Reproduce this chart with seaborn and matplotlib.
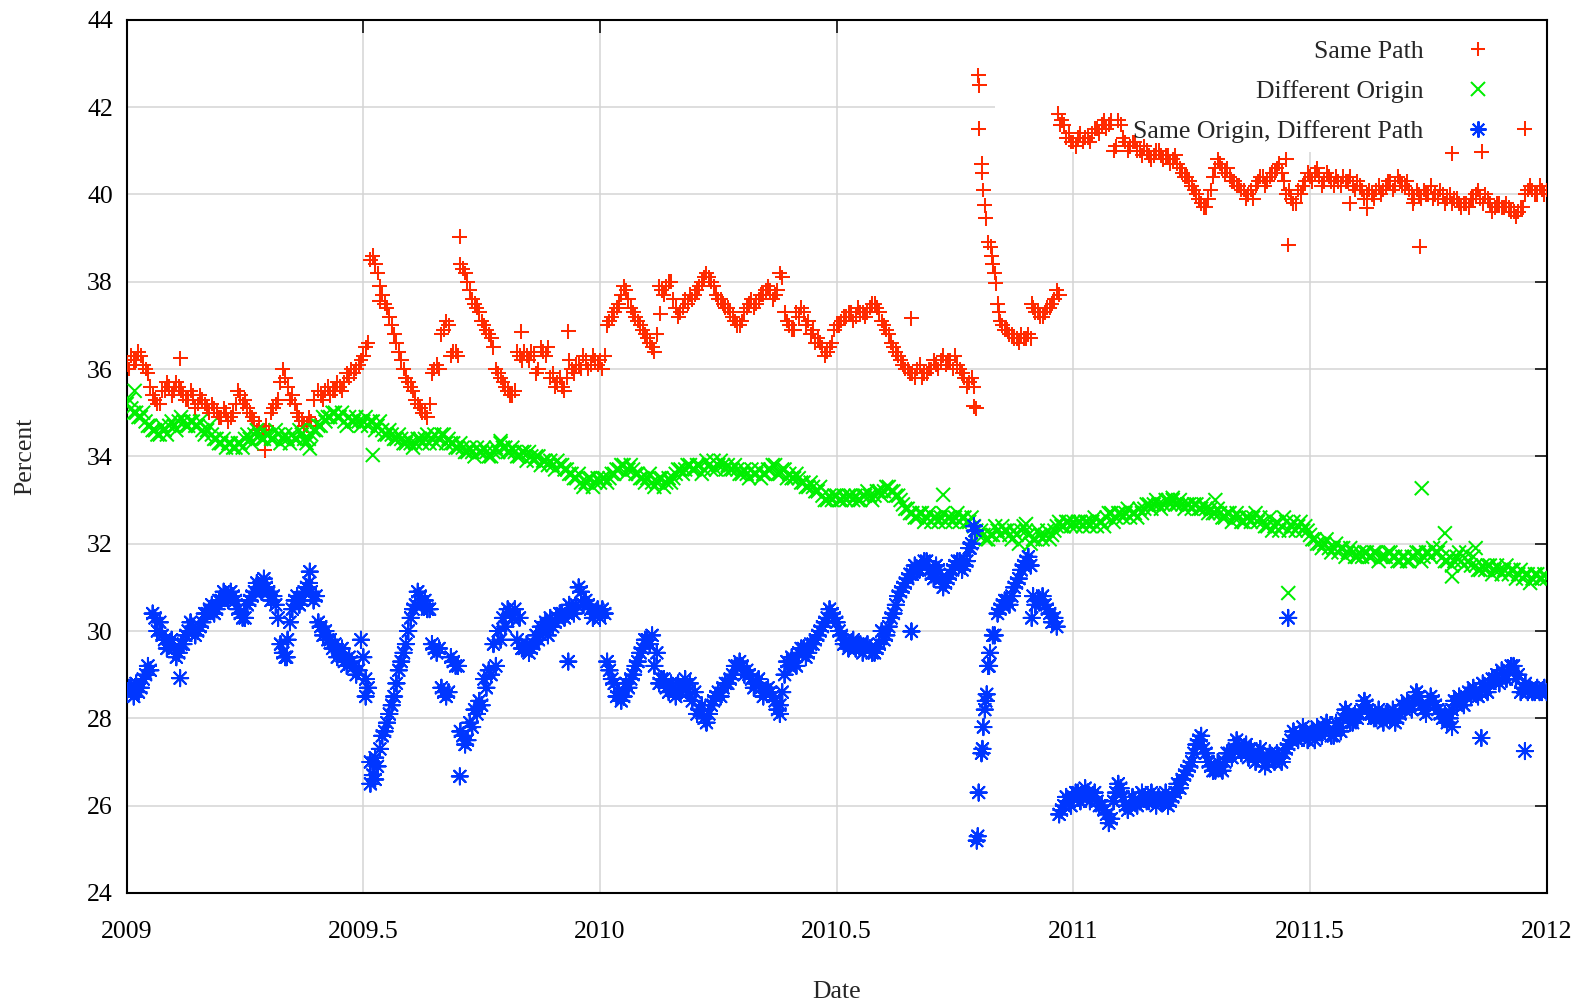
import numpy as np
import pandas as pd
import matplotlib
matplotlib.use("Agg")
import matplotlib.pyplot as plt
import seaborn as sns
from matplotlib.lines import Line2D
from matplotlib.patches import Rectangle
from matplotlib.ticker import FuncFormatter

nan = np.nan

# ---------------- data ----------------
# sampling dates: 2009.00 .. 2012.00 every 0.01 year, plus the half-steps between them
grid_t = np.round(np.arange(2009.0, 2012.0001, 0.01), 2)
half_t = np.round(np.arange(2009.005, 2011.9951, 0.01), 3)

same_path = [
    36.1, 36.3, 36.2, 36.3, 36.0, 35.6, 35.3, 35.2, 35.5, 35.6,
    35.5, 35.6, 35.4, 35.3, 35.4, 35.2, 35.3, 35.1, 35.2, 35.0,
    34.9, 35.0, 34.9, 35.2, 35.4, 35.3, 35.0, 34.8, 34.7, 34.6,
    34.6, 35.1, 35.3, 36.0, 35.6, 35.4, 35.0, 34.8, 34.7, 34.8,
    34.7, 35.4, 35.5, 35.4, 35.5, 35.6, 35.7, 35.8, 35.9, 36.1,
    36.3, 36.6, 38.6, 38.2, 37.7, 37.4, 37.0, 36.6, 36.2, 35.8,
    35.6, 35.3, 35.1, 35.0, 35.2, 36.0, 36.0, 36.9, 37.0, 36.4,
    36.3, 38.3, 38.0, 37.6, 37.4, 37.1, 36.9, 36.7, 36.0, 35.8,
    35.6, 35.4, 35.5, 36.3, 36.4, 36.2, 36.3, 36.0, 36.4, 36.5,
    35.9, 35.7, 35.6, 35.8, 36.0, 36.1, 36.0, 36.2, 36.1, 36.2,
    36.2, 36.3, 37.1, 37.3, 37.5, 37.9, 37.6, 37.3, 37.1, 36.9,
    36.7, 36.5, 36.8, 37.8, 37.9, 38.0, 37.4, 37.3, 37.6, 37.7,
    37.7, 37.9, 38.1, 38.1, 37.9, 37.6, 37.5, 37.4, 37.2, 37.0,
    37.1, 37.4, 37.6, 37.5, 37.7, 37.8, 37.8, 37.7, 38.2, 37.3,
    37.0, 36.9, 37.2, 37.3, 37.1, 36.9, 36.7, 36.5, 36.4, 36.6,
    37.0, 37.1, 37.2, 37.3, 37.2, 37.3, 37.2, 37.4, 37.5, 37.3,
    37.0, 36.8, 36.5, 36.3, 36.1, 36.0, 35.9, 36.0, 35.8, 35.9,
    36.0, 36.1, 36.2, 36.1, 36.2, 36.3, 36.0, 35.8, 35.7, 35.6,
    41.5, 40.1, 38.9, 38.4, 37.5, 37.0, 36.9, 36.8, 36.7, 36.8,
    36.7, 36.7, 37.3, 37.2, 37.3, 37.4, 37.6, 37.7, 41.6, 41.4,
    41.2, 41.3, 41.2, 41.3, 41.4, 41.5, 41.6, 41.5, 41.7, 41.1,
    41.6, 41.2, 41.1, 41.2, 41.0, 41.1, 40.9, 40.9, 41.0, 40.8,
    40.9, 40.8, 40.7, 40.5, 40.4, 40.2, 40.0, 39.8, 39.7, 40.1,
    40.6, 40.7, 40.5, 40.4, 40.3, 40.2, 40.1, 40.0, 39.9, 40.3,
    40.4, 40.3, 40.5, 40.6, 40.5, 40.0, 39.9, 39.8, 40.0, 40.3,
    40.4, 40.5, 40.4, 40.3, 40.4, 40.2, 40.3, 40.4, 40.3, 40.2,
    40.3, 40.1, 40.0, 40.0, 40.1, 40.0, 40.2, 40.3, 40.2, 40.3,
    40.2, 40.1, 39.9, 40.0, 40.1, 40.0, 39.9, 39.9, 40.0, 39.9,
    39.8, 39.9, 39.7, 39.8, 39.9, 40.0, 39.9, 40.0, 39.8, 39.7,
    39.8, 39.7, 39.7, 39.6, 39.6, 39.7, 40.1, 40.1, 40.0, 40.1,
    40.1,
]
same_path_half = [
    36.0, 36.2, 36.4, 36.1, 35.9, 35.4, 35.2, 35.5, 35.7, 35.4,
    35.7, 35.5, 35.3, 35.5, 35.1, 35.4, 35.2, 35.0, 35.1, 34.9,
    35.1, 34.8, 35.0, 35.5, 35.2, 35.1, 34.9, 34.6, 34.5, 34.7,
    35.0, 35.2, 35.7, 35.8, 35.3, 35.2, 34.9, 34.7, 34.9, 35.3,
    35.5, 35.3, 35.6, 35.5, 35.7, 35.5, 35.9, 36.0, 36.0, 36.2,
    36.5, 38.5, 38.4, 37.9, 37.5, 37.2, 36.8, 36.4, 36.0, 35.7,
    35.5, 35.2, 35.0, 34.9, 35.9, 36.1, 36.8, 37.1, 36.3, 36.4,
    38.4, 38.2, 37.8, 37.5, 37.3, 37.0, 36.8, 36.5, 35.9, 35.7,
    35.5, 35.4, 36.4, 36.2, 36.3, 36.4, 35.9, 36.5, 36.3, 35.8,
    35.6, 35.8, 35.5, 36.2, 35.9, 36.1, 36.3, 36.0, 36.3, 36.1,
    36.0, 37.0, 37.2, 37.4, 37.7, 37.8, 37.4, 37.2, 37.0, 36.8,
    36.6, 36.4, 37.9, 37.7, 38.0, 37.6, 37.2, 37.4, 37.5, 37.6,
    37.8, 38.0, 38.2, 38.0, 37.7, 37.6, 37.4, 37.3, 37.1, 37.0,
    37.3, 37.5, 37.4, 37.6, 37.7, 37.9, 37.6, 37.8, 38.1, 37.1,
    36.9, 37.3, 37.4, 37.0, 36.8, 36.6, 36.6, 36.3, 36.5, 36.9,
    37.0, 37.2, 37.3, 37.1, 37.4, 37.3, 37.3, 37.5, 37.4, 37.1,
    36.9, 36.6, 36.4, 36.2, 36.0, 35.9, 35.8, 36.1, 35.9, 36.0,
    36.2, 36.0, 36.3, 36.2, 36.0, 36.1, 35.9, 35.6, 35.8, nan,
    nan, nan, nan, nan, 37.1, 36.9, 36.8, 36.7, 36.6, 36.7,
    36.8, 37.4, 37.3, 37.2, 37.4, 37.5, 37.8, 41.7, 41.3, 41.2,
    41.1, 41.4, 41.3, 41.2, 41.5, 41.4, 41.7, 41.6, 41.0, 41.7,
    41.3, 41.0, 41.2, 41.0, 40.9, 41.0, 40.8, 41.0, 40.9, 40.9,
    40.7, 40.9, 40.6, 40.4, 40.3, 40.1, 39.9, 39.7, 39.9, 40.4,
    40.8, 40.6, 40.6, 40.3, 40.2, 40.1, 39.9, 40.1, 40.2, 40.4,
    40.2, 40.4, 40.5, 40.7, 40.3, 40.1, 39.8, 40.1, 40.2, 40.5,
    40.3, 40.6, 40.2, 40.5, 40.3, 40.4, 40.2, 40.3, 40.4, 40.1,
    40.2, 39.9, 40.1, 39.9, 40.2, 40.1, 40.3, 40.1, 40.4, 40.2,
    40.3, 40.0, 40.1, 39.9, 40.0, 40.2, 40.0, 40.1, 39.8, 40.0,
    39.9, 39.8, 39.8, 39.7, 39.9, 40.1, 39.8, 39.9, 39.6, 39.8,
    39.7, 39.8, 39.6, 39.5, 39.7, 40.0, 40.2, 40.0, 40.2, 40.0,
]
same_path_extra_t = [2009.113, 2009.292, 2009.535, 2009.704, 2009.834, 2009.933,
                     2010.127, 2010.658, 2010.790, 2010.795, 2010.799, 2010.801,
                     2010.806, 2010.807, 2010.813, 2010.815, 2010.825, 2010.828,
                     2010.834, 2010.836, 2010.843, 2010.912, 2010.968, 2010.972,
                     2011.450, 2011.454, 2011.584, 2011.620, 2011.718, 2011.732,
                     2011.800, 2011.863, 2011.954]
same_path_extra_v = [36.25, 34.14, 37.55, 39.03, 36.85, 36.86,
                     37.27, 37.16, 35.15, 35.10, 42.73, 42.50,
                     40.70, 40.50, 39.75, 39.45, 38.80, 38.60,
                     38.20, 37.96, 37.30, 37.50, 41.85, 41.60,
                     40.80, 38.84, 39.80, 39.68, 39.80, 38.80,
                     40.94, 40.98, 41.50]

diff_origin = [
    35.2, 35.1, 35.0, 34.9, 34.8, 34.7, 34.6, 34.5, 34.6, 34.7,
    34.7, 34.8, 34.8, 34.7, 34.8, 34.7, 34.6, 34.6, 34.5, 34.4,
    34.3, 34.2, 34.3, 34.2, 34.3, 34.4, 34.4, 34.5, 34.5, 34.4,
    34.5, 34.4, 34.5, 34.4, 34.4, 34.5, 34.4, 34.5, 34.3, 34.5,
    34.6, 34.7, 34.8, 34.9, 35.0, 34.9, 34.8, 34.9, 34.8, 34.8,
    34.8, 34.7, 34.8, 34.7, 34.6, 34.5, 34.5, 34.4, 34.4, 34.3,
    34.3, 34.3, 34.4, 34.4, 34.3, 34.5, 34.4, 34.5, 34.4, 34.3,
    34.2, 34.2, 34.1, 34.1, 34.2, 34.1, 34.1, 34.0, 34.2, 34.3,
    34.2, 34.1, 34.1, 34.0, 34.1, 34.1, 33.9, 34.0, 33.9, 33.8,
    33.8, 33.9, 33.8, 33.7, 33.6, 33.5, 33.4, 33.4, 33.5, 33.4,
    33.4, 33.5, 33.5, 33.6, 33.7, 33.8, 33.7, 33.7, 33.6, 33.5,
    33.5, 33.4, 33.4, 33.5, 33.4, 33.4, 33.6, 33.7, 33.7, 33.8,
    33.7, 33.8, 33.7, 33.8, 33.9, 33.8, 33.8, 33.8, 33.7, 33.7,
    33.6, 33.6, 33.7, 33.6, 33.5, 33.6, 33.7, 33.8, 33.6, 33.7,
    33.6, 33.5, 33.5, 33.4, 33.3, 33.3, 33.2, 33.1, 33.0, 33.0,
    33.1, 33.0, 33.0, 33.1, 33.1, 33.0, 33.1, 33.1, 33.1, 33.2,
    33.2, 33.3, 33.2, 33.1, 32.9, 32.8, 32.7, 32.6, 32.7, 32.6,
    32.5, 32.6, 32.6, 32.5, 32.6, 32.6, 32.5, 32.6, 32.5, 32.4,
    32.2, 32.2, 32.1, 32.2, 32.3, 32.4, 32.3, 32.1, 32.2, 32.3,
    32.3, 32.0, 32.1, 32.2, 32.2, 32.1, 32.3, 32.5, 32.4, 32.5,
    32.5, 32.5, 32.4, 32.5, 32.5, 32.4, 32.5, 32.6, 32.7, 32.6,
    32.7, 32.7, 32.6, 32.7, 32.8, 32.8, 32.9, 32.9, 32.9, 32.9,
    33.0, 33.0, 32.9, 32.9, 32.9, 32.8, 32.9, 32.8, 32.8, 32.8,
    32.7, 32.7, 32.6, 32.7, 32.6, 32.6, 32.5, 32.6, 32.6, 32.5,
    32.5, 32.4, 32.3, 32.5, 32.4, 32.5, 32.4, 32.3, 32.5, 32.4,
    32.2, 32.1, 32.0, 32.0, 31.9, 31.9, 31.8, 31.9, 31.8, 31.8,
    31.7, 31.7, 31.8, 31.7, 31.8, 31.7, 31.7, 31.8, 31.7, 31.6,
    31.7, 31.6, 31.7, 31.8, 31.7, 31.8, 31.9, 31.8, 31.7, 31.6,
    31.5, 31.7, 31.6, 31.8, 31.5, 31.5, 31.4, 31.4, 31.5, 31.4,
    31.4, 31.4, 31.3, 31.4, 31.3, 31.2, 31.3, 31.2, 31.3, 31.2,
    31.2,
]
diff_origin_half = [
    35.3, 35.0, 34.9, 35.0, 34.7, 34.6, 34.5, 34.7, 34.5, 34.8,
    34.6, 34.9, 34.7, 34.8, 34.7, 34.8, 34.5, 34.7, 34.4, 34.3,
    34.4, 34.3, 34.2, 34.3, 34.2, 34.5, 34.3, 34.6, 34.4, 34.5,
    34.4, 34.6, 34.3, 34.5, 34.3, 34.4, 34.6, 34.4, 34.4, 34.6,
    34.7, 34.9, 34.9, 35.0, 34.9, 35.0, 34.7, 34.8, 34.9, 34.7,
    34.9, 34.8, 34.6, 34.8, 34.5, 34.6, 34.4, 34.5, 34.3, 34.4,
    34.2, 34.4, 34.3, 34.5, 34.4, 34.3, 34.5, 34.3, 34.3, 34.2,
    34.3, 34.1, 34.2, 34.0, 34.1, 34.2, 34.0, 34.1, 34.1, 34.2,
    34.1, 34.2, 34.0, 34.1, 33.9, 34.0, 34.0, 33.8, 33.9, 33.9,
    33.7, 33.8, 33.7, 33.6, 33.5, 33.6, 33.3, 33.5, 33.3, 33.5,
    33.5, 33.4, 33.6, 33.7, 33.8, 33.6, 33.8, 33.6, 33.5, 33.4,
    33.6, 33.3, 33.5, 33.3, 33.5, 33.5, 33.7, 33.6, 33.8, 33.7,
    33.8, 33.6, 33.9, 33.7, 33.7, 33.9, 33.7, 33.7, 33.8, 33.6,
    33.7, 33.5, 33.6, 33.7, 33.6, 33.7, 33.8, 33.6, 33.7, 33.5,
    33.5, 33.6, 33.4, 33.3, 33.4, 33.2, 33.3, 33.0, 33.1, 33.1,
    33.0, 33.1, 33.1, 33.0, 33.0, 33.1, 33.2, 33.0, 33.2, 33.1,
    33.3, 33.2, 33.1, 33.0, 32.8, 32.7, 32.6, 32.7, 32.5, 32.7,
    32.6, 32.5, 32.7, 32.6, 32.5, 32.7, 32.6, 32.5, 32.6, 32.3,
    32.3, 32.1, 32.2, 32.4, 32.2, 32.3, 32.2, 32.3, 32.0, 32.4,
    32.2, 32.1, 32.3, 32.1, 32.3, 32.2, 32.4, 32.4, 32.5, 32.4,
    32.4, 32.5, 32.5, 32.4, 32.6, 32.5, 32.4, 32.7, 32.5, 32.7,
    32.6, 32.8, 32.7, 32.6, 32.7, 32.9, 32.8, 33.0, 32.8, 33.0,
    32.9, 32.9, 33.0, 32.8, 32.9, 32.9, 32.8, 32.9, 32.7, 32.7,
    32.8, 32.6, 32.7, 32.5, 32.7, 32.5, 32.6, 32.5, 32.7, 32.6,
    32.4, 32.6, 32.4, 32.3, 32.6, 32.3, 32.5, 32.4, 32.3, 32.3,
    32.1, 32.0, 31.9, 32.1, 31.8, 32.0, 31.9, 31.7, 31.9, 31.7,
    31.8, 31.8, 31.7, 31.8, 31.6, 31.7, 31.8, 31.7, 31.6, 31.7,
    31.6, 31.7, 31.8, 31.6, 31.8, 31.7, 31.8, 31.9, 31.6, 31.7,
    31.6, 31.8, 31.5, 31.6, 31.7, 31.4, 31.5, 31.5, 31.3, 31.5,
    31.3, 31.5, 31.4, 31.2, 31.4, 31.3, 31.1, 31.3, 31.2, 31.3,
]
diff_origin_extra_t = [2009.017, 2009.387, 2009.520, 2009.790, 2010.725, 2010.900,
                       2011.210, 2011.300, 2011.454, 2011.736, 2011.785, 2011.800,
                       2011.850]
diff_origin_extra_v = [35.50, 34.18, 34.03, 34.35, 33.12, 32.45,
                       33.05, 33.00, 30.87, 33.27, 32.24, 31.25,
                       31.90]

same_origin_diff_path = [
    28.6, 28.7, 28.8, 28.7, 29.0, 29.1, 30.3, 30.2, 29.8, 29.7,
    29.6, 29.5, 29.7, 30.0, 30.1, 30.0, 30.2, 30.4, 30.6, 30.5,
    30.7, 30.8, 30.9, 30.7, 30.4, 30.3, 30.7, 30.9, 31.0, 31.1,
    30.9, 30.8, 30.3, 29.5, 29.8, 30.5, 30.8, 30.7, 31.0, 30.9,
    30.8, 30.1, 30.0, 29.8, 29.7, 29.5, 29.3, 29.4, 29.2, 29.1,
    29.4, 28.7, 26.7, 26.9, 27.6, 27.9, 28.3, 28.8, 29.3, 29.7,
    30.3, 30.6, 30.8, 30.7, 30.5, 29.6, 29.6, 28.6, 28.6, 29.3,
    29.2, 27.6, 27.5, 27.8, 28.1, 28.3, 28.7, 29.0, 29.2, 29.8,
    30.1, 30.4, 30.5, 30.3, 29.6, 29.5, 29.7, 29.8, 30.0, 29.9,
    30.1, 30.3, 30.4, 30.4, 30.5, 30.6, 30.9, 30.7, 30.5, 30.4,
    30.3, 30.4, 29.1, 28.8, 28.6, 28.5, 28.7, 29.0, 29.3, 29.6,
    29.8, 29.9, 29.5, 28.9, 28.7, 28.8, 28.5, 28.6, 28.9, 28.8,
    28.6, 28.2, 28.0, 28.1, 28.4, 28.6, 28.7, 28.8, 29.0, 29.2,
    29.2, 29.1, 28.9, 28.8, 28.7, 28.6, 28.6, 28.4, 28.3, 29.0,
    29.2, 29.3, 29.5, 29.6, 29.5, 29.7, 29.9, 30.1, 30.3, 30.4,
    30.2, 29.9, 29.8, 29.7, 29.6, 29.7, 29.6, 29.6, 29.5, 29.7,
    29.8, 30.1, 30.4, 30.8, 31.0, 31.2, 31.3, 31.4, 31.5, 31.6,
    31.3, 31.5, 31.2, 31.1, 31.3, 31.5, 31.6, 31.5, 31.9, 32.4,
    26.3, 27.8, 29.2, 29.9, 30.4, 30.6, 30.7, 30.8, 31.1, 31.4,
    31.6, 31.5, 30.6, 30.7, 30.6, 30.4, 30.3, 25.8, 26.0, 26.1,
    26.2, 26.3, 26.2, 26.3, 26.2, 26.1, 26.0, 25.8, 25.7, 26.3,
    26.4, 26.0, 26.0, 26.1, 26.1, 26.2, 26.1, 26.2, 26.2, 26.1,
    26.0, 26.2, 26.5, 26.6, 26.8, 27.0, 27.4, 27.6, 27.2, 26.9,
    26.8, 26.9, 27.0, 27.2, 27.3, 27.4, 27.3, 27.1, 27.2, 27.2,
    27.1, 27.0, 27.1, 27.2, 27.0, 27.3, 27.5, 27.6, 27.6, 27.7,
    27.6, 27.5, 27.7, 27.8, 27.7, 27.6, 27.8, 28.0, 28.1, 27.9,
    28.0, 28.2, 28.3, 28.1, 28.0, 28.0, 28.1, 28.0, 27.9, 28.1,
    28.2, 28.3, 28.4, 28.5, 28.2, 28.3, 28.4, 28.2, 28.0, 27.9,
    28.2, 28.3, 28.4, 28.5, 28.5, 28.6, 28.6, 28.7, 28.8, 28.9,
    28.8, 29.0, 29.1, 29.2, 29.0, 28.7, 28.6, 28.6, 28.7, 28.6,
    28.6,
]
same_origin_diff_path_half = [
    28.7, 28.5, 28.6, 28.9, 29.2, 30.4, 30.0, 29.9, 29.6, 29.8,
    29.4, 29.7, 29.9, 30.2, 29.9, 30.1, 30.4, 30.5, 30.4, 30.7,
    30.9, 30.7, 30.8, 30.5, 30.3, 30.6, 30.8, 31.1, 30.9, 31.0,
    30.7, 30.6, 29.7, 29.4, 30.2, 30.7, 30.6, 30.9, 31.1, 30.7,
    30.2, 29.9, 29.8, 29.6, 29.4, 29.6, 29.2, 29.3, 29.0, 29.8,
    28.9, 27.0, 26.6, 27.3, 27.7, 28.1, 28.5, 29.1, 29.5, 30.0,
    30.5, 30.9, 30.6, 30.5, 29.7, 29.5, 28.7, 28.5, 29.4, 29.2,
    27.7, 27.4, 27.9, 28.2, 28.4, 28.9, 29.1, 29.7, 30.0, 30.3,
    30.5, 30.3, 29.8, 29.6, 29.7, 29.6, 29.9, 30.1, 30.2, 30.3,
    30.2, 30.4, 30.3, 30.6, 30.4, 31.0, 30.6, 30.6, 30.3, 30.5,
    30.5, 29.3, 28.9, 28.5, 28.4, 28.8, 28.9, 29.2, 29.5, 29.8,
    29.7, 29.2, 28.8, 28.9, 28.6, 28.7, 28.8, 28.7, 28.6, 28.4,
    28.1, 28.3, 27.9, 28.3, 28.5, 28.5, 28.8, 28.9, 29.2, 29.3,
    29.0, 29.0, 28.7, 28.9, 28.5, 28.7, 28.5, 28.2, 28.6, 29.3,
    29.4, 29.2, 29.6, 29.4, 29.7, 29.8, 30.0, 30.2, 30.5, 30.3,
    30.0, 29.7, 29.6, 29.8, 29.7, 29.5, 29.7, 29.5, 29.6, 30.0,
    29.9, 30.3, 30.6, 30.9, 31.1, 31.3, 31.5, 31.4, 31.6, 31.4,
    31.2, 31.4, 31.0, 31.2, 31.4, 31.6, 31.4, 31.6, 32.0, nan,
    nan, nan, nan, nan, 30.5, 30.7, 30.6, 31.0, 31.2, 31.5,
    31.7, 30.8, 30.7, 30.8, 30.5, 30.2, nan, 25.9, 26.2, 26.0,
    26.3, 26.1, 26.4, 26.1, 26.3, 26.0, 25.9, 25.6, 26.1, 26.5,
    26.2, 25.9, 26.2, 26.0, 26.3, 26.1, 26.3, 26.0, 26.1, 26.3,
    26.1, 26.3, 26.4, 26.7, 26.9, 27.2, 27.5, 27.3, 27.0, 26.8,
    27.0, 26.8, 27.2, 27.1, 27.5, 27.2, 27.4, 27.3, 27.0, 27.3,
    26.9, 27.2, 27.0, 27.1, 27.2, 27.4, 27.7, 27.5, 27.8, 27.5,
    27.7, 27.8, 27.6, 27.9, 27.6, 27.9, 27.7, 28.2, 27.9, 28.1,
    28.1, 28.4, 28.1, 28.0, 28.2, 27.9, 28.1, 28.2, 28.0, 28.3,
    28.4, 28.2, 28.6, 28.3, 28.1, 28.5, 28.3, 28.1, 28.1, 28.0,
    28.4, 28.5, 28.3, 28.6, 28.7, 28.5, 28.8, 28.6, 28.9, 29.0,
    29.1, 28.9, 29.2, 28.9, 28.6, 28.8, 28.7, 28.6, 28.6, 28.7,
]
same_origin_diff_path_extra_t = [2009.113, 2009.290, 2009.338, 2009.387, 2009.505, 2009.515,
                                 2009.525, 2009.704, 2009.933, 2010.380, 2010.658, 2010.782,
                                 2010.792, 2010.796, 2010.798, 2010.806, 2010.808, 2010.813,
                                 2010.815, 2010.817, 2010.822, 2010.824, 2010.834, 2010.912,
                                 2010.965, 2011.454, 2011.800, 2011.862, 2011.954]
same_origin_diff_path_extra_v = [28.92, 31.20, 29.40, 31.36, 28.50, 26.50,
                                 27.10, 26.67, 29.30, 28.10, 29.99, 31.90,
                                 32.30, 25.20, 25.30, 27.20, 27.30, 28.20,
                                 28.40, 28.55, 29.20, 29.50, 29.90, 30.30,
                                 30.10, 30.30, 27.80, 27.55, 27.25]

series_names = ["Same Path", "Different Origin", "Same Origin, Different Path"]
x_ticks = [2009, 2009.5, 2010, 2010.5, 2011, 2011.5, 2012]
y_ticks = [24, 26, 28, 30, 32, 34, 36, 38, 40, 42, 44]

# ---------------- build long table ----------------
frames = []
for name, vals, hvals, et, ev in [
    (series_names[0], same_path, same_path_half, same_path_extra_t, same_path_extra_v),
    (series_names[1], diff_origin, diff_origin_half, diff_origin_extra_t, diff_origin_extra_v),
    (series_names[2], same_origin_diff_path, same_origin_diff_path_half,
     same_origin_diff_path_extra_t, same_origin_diff_path_extra_v),
]:
    t = np.concatenate([grid_t, half_t, np.array(et)])
    v = np.concatenate([np.array(vals), np.array(hvals), np.array(ev)])
    frames.append(pd.DataFrame({"Date": t, "Percent": v, "series": name}))
df = pd.concat(frames, ignore_index=True).dropna()

colors = {series_names[0]: "#ff2a00", series_names[1]: "#00ee00",
          series_names[2]: "#0036ff"}
markers = {series_names[0]: "+", series_names[1]: "x", series_names[2]: (8, 2, 0)}
marker_area = {series_names[0]: 115, series_names[1]: 100, series_names[2]: 135}

# ---------------- plot ----------------
sns.set_theme(style="white")
plt.rcParams["font.family"] = ["Liberation Serif", "DejaVu Serif"]
FS = 18.5

fig = plt.figure(figsize=(15.87, 10.02), dpi=100)
ax = fig.add_axes([0.0798, 0.1088, 0.8948, 0.8715])

ax.set_axisbelow(True)
ax.grid(True, color="#d4d4d4", linewidth=1.1, zorder=0)

# opaque key box (covers the grid, below the data)
ax.add_patch(Rectangle((0.6115, 0.849), 0.3885, 0.151, transform=ax.transAxes,
                       facecolor="white", edgecolor="none", zorder=1))

sns.scatterplot(data=df, x="Date", y="Percent", hue="series", style="series",
                size="series", sizes=marker_area, size_order=series_names,
                palette=colors, markers=markers, hue_order=series_names,
                style_order=series_names, linewidth=1.45, legend=False,
                ax=ax, zorder=3)

ax.set_xlim(2009, 2012)
ax.set_ylim(24, 44)
ax.set_xticks(x_ticks)
ax.set_yticks(y_ticks)
ax.xaxis.set_major_formatter(FuncFormatter(lambda v, p: f"{v:g}"))
ax.tick_params(direction="in", length=9, width=1.1, top=True, right=True,
               labelsize=FS, colors="black")
ax.tick_params(axis="x", pad=20)
ax.tick_params(axis="y", pad=10)
for s in ax.spines.values():
    s.set_linewidth(1.5)
    s.set_color("black")

ax.set_xlabel("Date", fontsize=FS)
ax.set_ylabel("Percent", fontsize=FS)
ax.xaxis.set_label_coords(0.5, -0.113)
ax.xaxis.label.set_va("center")
ax.yaxis.set_label_coords(-0.0716, 0.5)
ax.yaxis.label.set_va("center")

handles = [Line2D([], [], linestyle="none", marker=markers[n], color=colors[n],
                  markersize=np.sqrt(marker_area[n]), markeredgewidth=1.45)
           for n in series_names]
leg = ax.legend(handles, series_names, loc="upper right",
                bbox_to_anchor=(0.9608, 0.977), frameon=False, markerfirst=False,
                fontsize=FS, handlelength=1.0, handletextpad=1.63,
                labelspacing=0.66, borderpad=0, borderaxespad=0)
leg.set_zorder(5)

fig.savefig("out.png", dpi=100)
